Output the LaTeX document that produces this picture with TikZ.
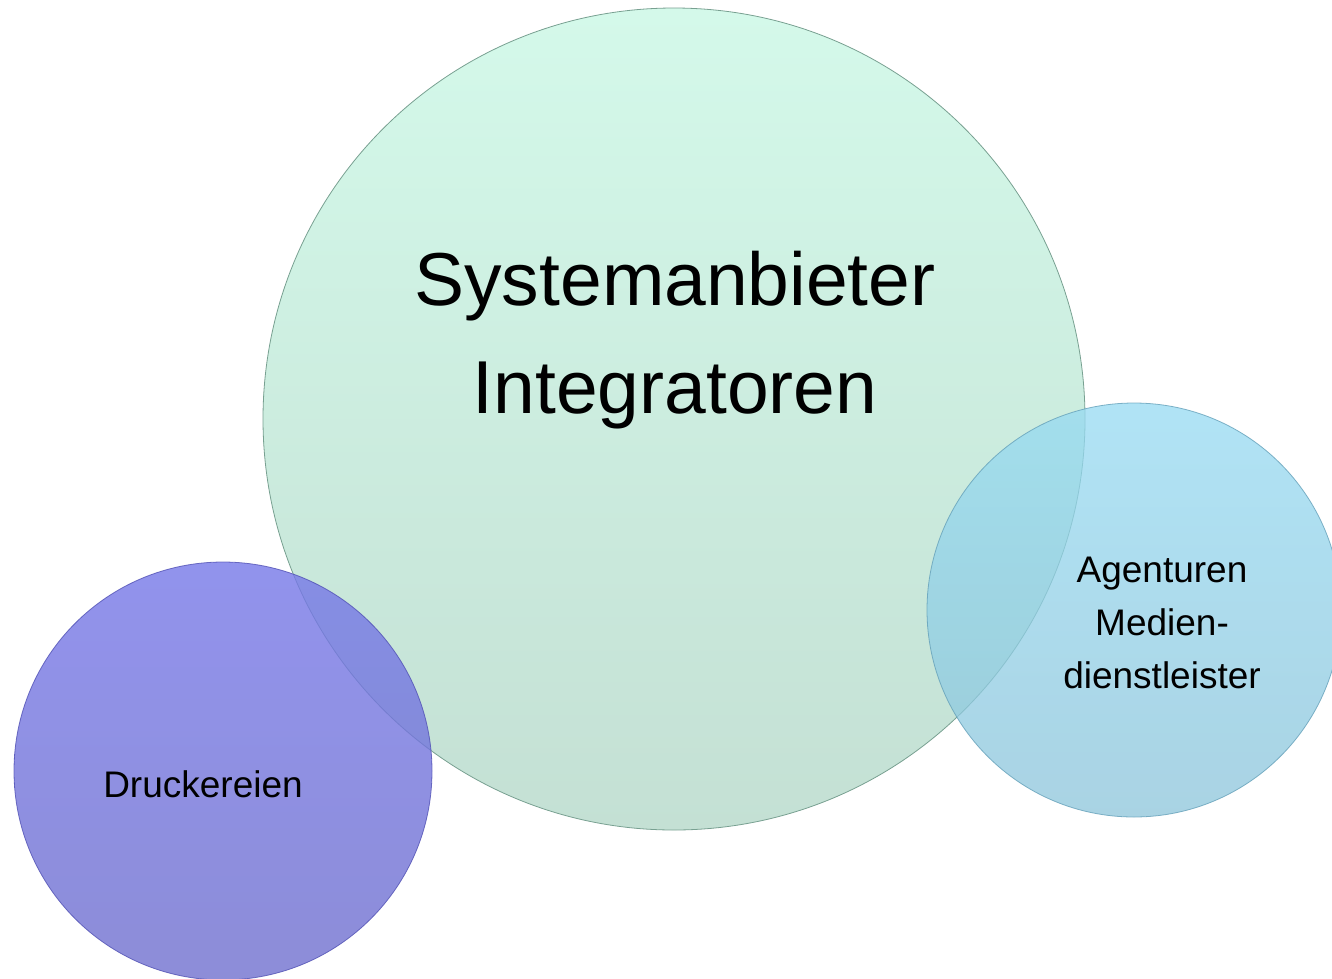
\documentclass[tikz,border=0pt]{standalone}
\usepackage{fontspec}
\setmainfont{Liberation Sans}
\usepackage{xcolor}
\usepackage{tikz}
\usetikzlibrary{shapes,arrows,positioning}

\definecolor{systop}{RGB}{212,249,234}
\definecolor{sysbot}{RGB}{196,224,212}
\definecolor{sysline}{RGB}{120,160,145}
\definecolor{drucktop}{RGB}{118,120,232}
\definecolor{druckbot}{RGB}{112,112,206}
\definecolor{druckline}{RGB}{80,80,180}
\definecolor{agtop}{RGB}{150,218,242}
\definecolor{agbot}{RGB}{140,196,218}
\definecolor{agline}{RGB}{100,160,185}

\begin{document}
\begin{tikzpicture}[x=1pt,y=-1pt,
      bubble/.style={circle, inner sep=0pt, line width=0.8pt},
      bigtext/.style={align=center, font=\fontsize{75}{108}\selectfont},
      smalltext/.style={align=center, font=\fontsize{37}{53}\selectfont}]
      \useasboundingbox (0,0) rectangle (1332,978);
      % circles
      \node[bubble, minimum size=822pt, draw=sysline, top color=systop, bottom color=sysbot]
        (sys) at (674,419) {};
      \node[bubble, minimum size=418pt, draw=druckline, top color=drucktop, bottom color=druckbot,
        fill opacity=0.8, draw opacity=0.8] (druck) at (223,771) {};
      \node[bubble, minimum size=414pt, draw=agline, top color=agtop, bottom color=agbot,
        fill opacity=0.75, draw opacity=0.8] (agentur) at (1134,610) {};
      % labels
      \node[bigtext] (systext) at (675,340) {Systemanbieter\\Integratoren};
      \node[smalltext] (drucktext) at (203,784) {Druckereien};
      \node[smalltext] (agtext) at (1162,623) {Agenturen\\Medien-\\dienstleister};
    \end{tikzpicture}
\end{document}
